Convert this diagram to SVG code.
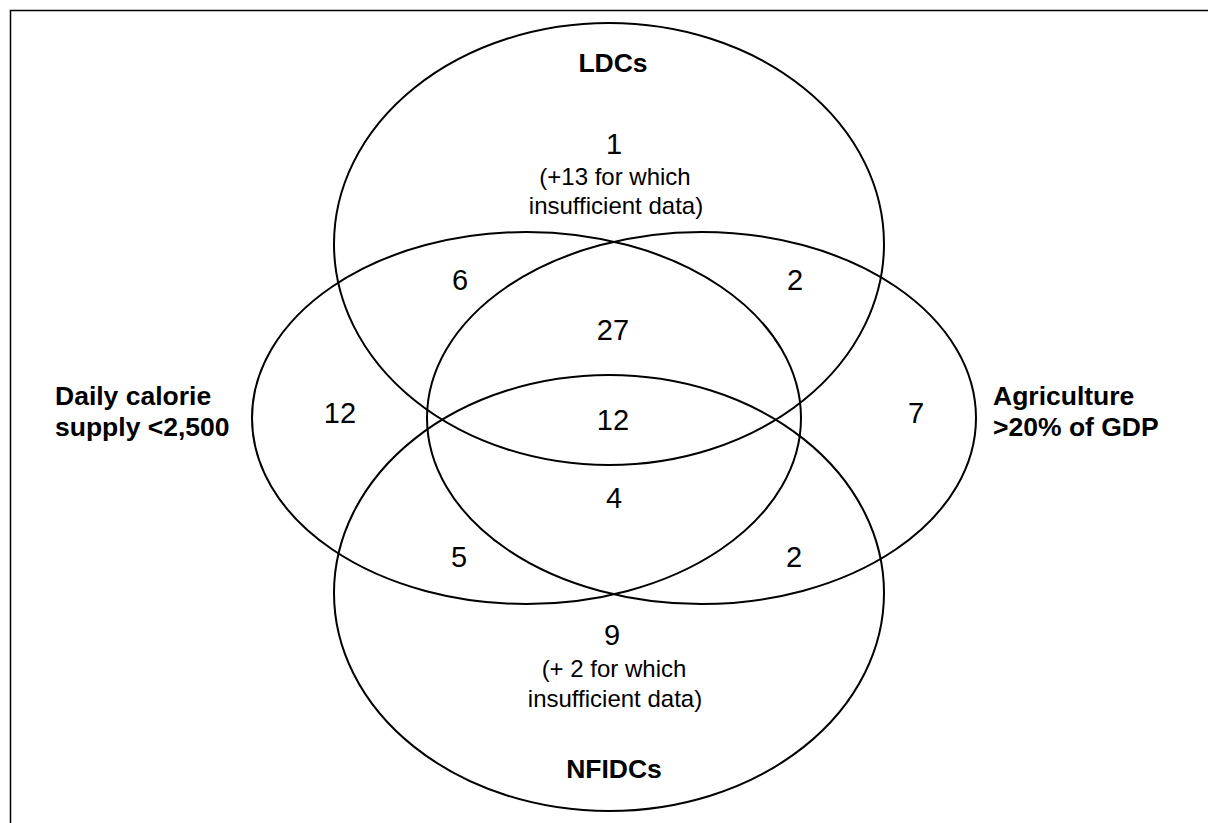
<svg xmlns="http://www.w3.org/2000/svg" width="1208" height="823" viewBox="0 0 1208 823">
<style>
.e{fill:none;stroke:#000;stroke-width:2}
.n{font-family:"Liberation Sans",Arial,sans-serif;font-size:29px;fill:#000;text-anchor:middle}
.s{font-family:"Liberation Sans",Arial,sans-serif;font-size:24px;fill:#000;text-anchor:middle}
.b{font-family:"Liberation Sans",Arial,sans-serif;font-size:26.5px;font-weight:bold;fill:#000}
</style>
<rect x="0" y="0" width="1208" height="823" fill="#fff"/>
<rect x="10.5" y="10.5" width="1300" height="900" fill="none" stroke="#000" stroke-width="1.5"/>
<g id="sets">
<g id="ldcs">
<ellipse class="e" cx="609" cy="244" rx="275" ry="221"/>
<text class="b" x="613" y="72" text-anchor="middle">LDCs</text>
<text class="n" x="614" y="154">1</text>
<text class="s" x="615" y="185">(+13 for which</text>
<text class="s" x="616" y="214">insufficient data)</text>
</g>
<g id="calorie">
<ellipse class="e" cx="526.5" cy="418" rx="274.5" ry="186"/>
<text class="b" x="55" y="405">Daily calorie</text>
<text class="b" x="55" y="436">supply &lt;2,500</text>
</g>
<g id="agriculture">
<ellipse class="e" cx="701.5" cy="418" rx="274.5" ry="186"/>
<text class="b" x="993" y="405">Agriculture</text>
<text class="b" x="993" y="436">&gt;20% of GDP</text>
</g>
<g id="nfidcs">
<ellipse class="e" cx="609" cy="593" rx="275" ry="218"/>
<text class="n" x="612" y="645">9</text>
<text class="s" x="614" y="677">(+ 2 for which</text>
<text class="s" x="615" y="707">insufficient data)</text>
<text class="b" x="614" y="778" text-anchor="middle">NFIDCs</text>
</g>
</g>
<g id="counts">
<text class="n" x="460" y="290">6</text>
<text class="n" x="795" y="290">2</text>
<text class="n" x="613" y="340">27</text>
<text class="n" x="340" y="423">12</text>
<text class="n" x="613" y="430">12</text>
<text class="n" x="916" y="423">7</text>
<text class="n" x="614" y="508">4</text>
<text class="n" x="459" y="567">5</text>
<text class="n" x="794" y="567">2</text>
</g>
<g id="connectors"></g>
</svg>
